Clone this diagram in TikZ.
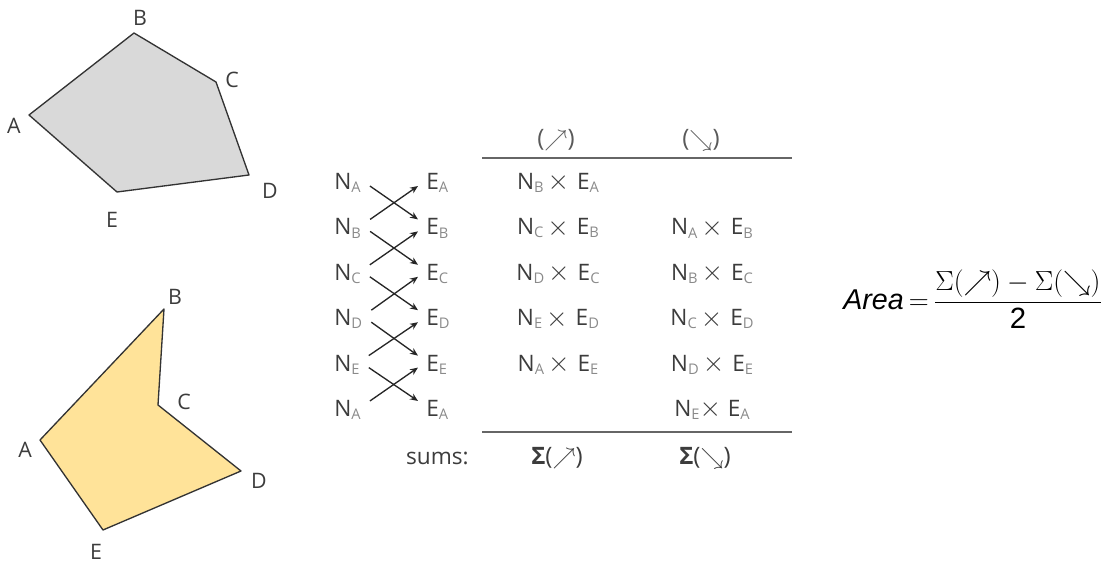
\documentclass[tikz,border=0pt]{standalone}
\usepackage{fontspec}
\setmainfont{Open Sans}
\newfontfamily\arialf{Liberation Sans}
\usetikzlibrary{arrows.meta,calc}
\definecolor{txt}{HTML}{3C3C3C}
\definecolor{subc}{HTML}{8A8A8A}
\definecolor{hdr}{HTML}{5A5A5A}
\definecolor{grayfill}{HTML}{D9D9D9}
\definecolor{yelfill}{HTML}{FFE399}
\newcommand{\lsub}[1]{\raisebox{-2.3pt}{\fontsize{11}{11}\selectfont\color{subc}#1}}
\newcommand{\bigx}{\raisebox{-0.3pt}{\fontsize{20}{20}\selectfont$\times$}}
\newcommand{\NxE}[2]{N\lsub{#1}\hspace{3pt}\bigx\hspace{6pt}E\lsub{#2}}
\begin{document}
\begin{tikzpicture}[x=0.75pt,y=-0.75pt,
  lbl/.style={font=\fontsize{16}{18}\selectfont, text=txt, inner sep=0pt},
  poly/.style={draw=black!80, line width=1pt, line join=round},
  cell/.style={font=\fontsize{17}{19}\selectfont, text=txt, inner sep=0pt},
  xarr/.style={-{Stealth[length=6pt,width=5pt]}, line width=1pt, draw=black!85},
  tabrule/.style={line width=1.3pt, draw=black!60}]
\useasboundingbox (0,0) rectangle (1115,566);
% gray polygon
\coordinate (gA) at (29,115);
\coordinate (gB) at (134,33);
\coordinate (gC) at (216,82);
\coordinate (gD) at (249,175);
\coordinate (gE) at (117,192);
\draw[poly, fill=grayfill] (gA)--(gB)--(gC)--(gD)--(gE)--cycle;
\node[lbl] (lgA) at (14,126) {A};
\node[lbl] (lgB) at (140,18) {B};
\node[lbl] (lgC) at (232,80) {C};
\node[lbl] (lgD) at (270,191) {D};
\node[lbl] (lgE) at (112,220) {E};
% yellow polygon
\coordinate (yA) at (40,440);
\coordinate (yB) at (164,309);
\coordinate (yC) at (158,405);
\coordinate (yD) at (241,471);
\coordinate (yE) at (103,530);
\draw[poly, fill=yelfill] (yA)--(yB)--(yC)--(yD)--(yE)--cycle;
\node[lbl] (lyA) at (25,450) {A};
\node[lbl] (lyB) at (175,297) {B};
\node[lbl] (lyC) at (184,402) {C};
\node[lbl] (lyD) at (259,481) {D};
\node[lbl] (lyE) at (96,552) {E};
% N and E columns
\foreach \i/\l/\y in {1/A/183,2/B/228.4,3/C/273.8,4/D/319.2,5/E/364.6,6/A/410}{
  \node[cell, anchor=west] (n\i) at (334,\y) {N\lsub{\l}};
  \node[cell, anchor=west] (e\i) at (426,\y) {E\lsub{\l}};
}
\foreach \i [evaluate=\i as \j using int(\i+1)] in {1,...,5}{
  \draw[xarr] ($(n\i.east)+(9,3)$) -- ($(e\j.west)+(-8,-9)$);
  \draw[xarr] ($(n\j.east)+(9,-9)$) -- ($(e\i.west)+(-8,3)$);
}
% header and rules
\node[cell, text=hdr, font=\fontsize{18}{20}\selectfont] (h1) at (556,140) {($\nearrow$)};
\node[cell, text=hdr, font=\fontsize{18}{20}\selectfont] (h2) at (701,140) {($\searrow$)};
\coordinate (rt1) at (482,158);
\coordinate (rt2) at (792,158);
\draw[tabrule] (rt1) -- (rt2);
\coordinate (rb1) at (482,432);
\coordinate (rb2) at (792,432);
\draw[tabrule] (rb1) -- (rb2);
% products
\node[cell] (a1) at (558,183) {\NxE{B}{A}};
\node[cell] (a2) at (558,228.4) {\NxE{C}{B}};
\node[cell] (a3) at (558,273.8) {\NxE{D}{C}};
\node[cell] (a4) at (558,319.2) {\NxE{E}{D}};
\node[cell] (a5) at (558,364.6) {\NxE{A}{E}};
\node[cell] (b2) at (712,228.4) {\NxE{A}{B}};
\node[cell] (b3) at (712,273.8) {\NxE{B}{C}};
\node[cell] (b4) at (712,319.2) {\NxE{C}{D}};
\node[cell] (b5) at (712,364.6) {\NxE{D}{E}};
\node[cell] (b6) at (712,410) {N\lsub{E}\bigx\hspace{5pt}E\lsub{A}};
% sums
\node[cell, anchor=east] (sl) at (469,458) {sums:};
\node[cell, font=\fontsize{18}{20}\selectfont] (s1) at (557,458) {\textbf{Σ}($\nearrow$)};
\node[cell, font=\fontsize{18}{20}\selectfont] (s2) at (705,458) {\textbf{Σ}($\searrow$)};
% formula
\node[anchor=west, inner sep=0pt, text=black, font=\fontsize{22.5}{26}\selectfont] (f) at (843,299)
  {{\arialf\itshape\fontsize{21.5}{24}\selectfont Area}\,$=$\,$\displaystyle\frac{\Sigma(\nearrow)-\Sigma(\searrow)}{\mbox{\arialf\fontsize{22}{24}\selectfont 2}}$};
\end{tikzpicture}
\end{document}
